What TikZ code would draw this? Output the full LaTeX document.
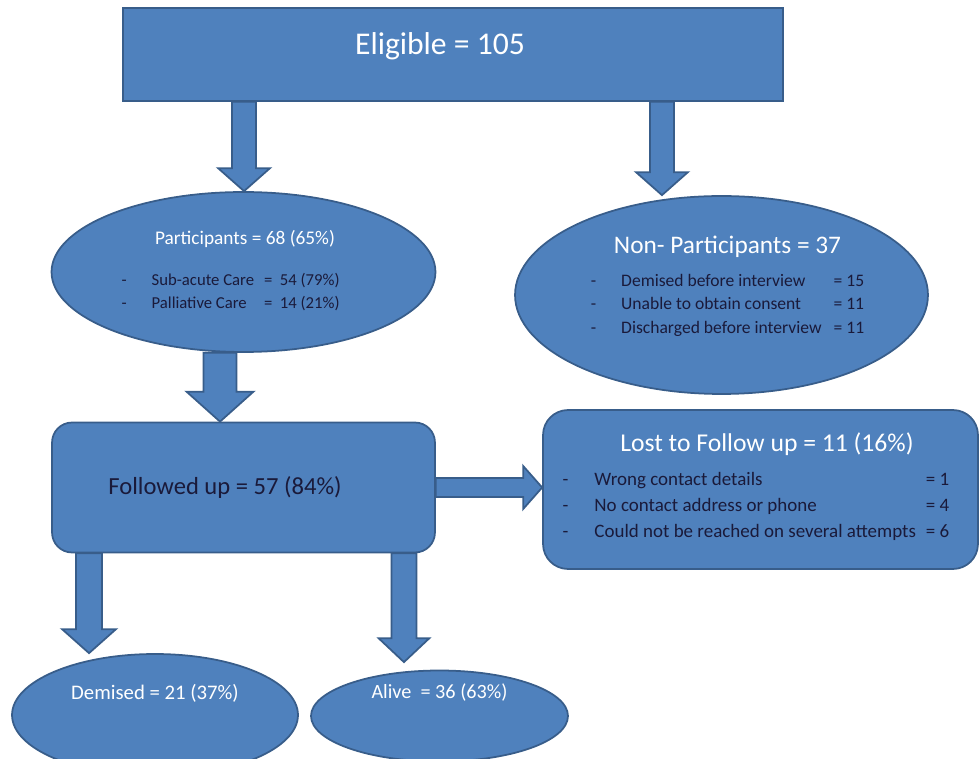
\documentclass[tikz,border=0pt]{standalone}
\usepackage{fontspec}
\setmainfont{Carlito}
\usetikzlibrary{calc,shapes.geometric}

\definecolor{fillblue}{HTML}{4F81BD}
\definecolor{edgeblue}{HTML}{385D8A}
\definecolor{ink}{RGB}{26,26,58}

\begin{document}
\begin{tikzpicture}[
  x=0.02cm, y=-0.02cm,
  blk/.style={fill=fillblue, draw=edgeblue, line width=1pt, inner sep=0pt},
  sqbox/.style={blk, rectangle},
  rbox/.style={blk, rectangle, rounded corners=0.4cm},
  oval/.style={blk, ellipse},
  head/.style={text=white, inner sep=0pt},
  body/.style={text=ink, inner sep=0pt},
  fat/.style n args={3}{fill=fillblue, draw=edgeblue, line width=1pt,
    to path={let \p1=(\tikztostart), \p2=(\tikztotarget),
      \n1={atan2(\y2-\y1,\x2-\x1)} in
      ($(\p1)+(\n1+90:#1)$) -- ($(\p2)+(\n1+180:#3)+(\n1+90:#1)$)
      -- ($(\p2)+(\n1+180:#3)+(\n1+90:#2)$) -- (\p2)
      -- ($(\p2)+(\n1+180:#3)+(\n1-90:#2)$)
      -- ($(\p2)+(\n1+180:#3)+(\n1-90:#1)$)
      -- ($(\p1)+(\n1-90:#1)$) -- cycle}}
]
  \clip (0,0) rectangle (980,759);

  \node[sqbox, minimum width=13.2cm, minimum height=1.86cm] (elig) at (453,54.5) {};
  \node[oval, minimum width=7.68cm, minimum height=3.2cm] (part) at (243.5,272) {};
  \node[oval, minimum width=8.26cm, minimum height=3.96cm] (nonpart) at (721.5,295) {};
  \node[rbox, minimum width=7.66cm, minimum height=2.6cm] (fu) at (243.5,487.5) {};
  \node[rbox, rounded corners=0.5cm, minimum width=8.7cm, minimum height=3.18cm] (lost) at (760.5,489.5) {};
  \node[oval, minimum width=5.72cm, minimum height=2.44cm] (dem) at (155,715) {};
  \node[oval, minimum width=5.14cm, minimum height=1.82cm] (alive) at (439.5,716) {};

  \node[head, font=\fontsize{18}{22}\selectfont] (eligtxt) at ([xshift=-0.26cm,yshift=0.16cm]elig.center) {Eligible = 105};

  \node[body, font=\fontsize{9.5}{13}\selectfont] (parttxt) at ([xshift=-0.2cm]part.center) {%
    \begin{tabular}{@{}l@{\hspace{0.5cm}}l@{\hspace{0.2cm}}l@{}}
      \multicolumn{3}{c}{\hspace{0.46cm}\color{white}\fontsize{11}{13}\selectfont Participants = 68 (65\%)}\\[10pt]
      - & Sub-acute Care & =\ \ 54 (79\%)\\
      - & Palliative Care & =\ \ 14 (21\%)
    \end{tabular}};

  \node[body, font=\fontsize{10}{13.6}\selectfont] (nonparttxt) at ([xshift=0.12cm,yshift=0.13cm]nonpart.center) {%
    \begin{tabular}{@{}l@{\hspace{0.5cm}}l@{\hspace{0.24cm}}l@{}}
      \multicolumn{3}{c}{\color{white}\fontsize{14.4}{16}\selectfont Non- Participants = 37\hspace{0.34cm}}\\[5pt]
      - & Demised before interview & = 15\\
      - & Unable to obtain consent & = 11\\
      - & Discharged before interview & = 11
    \end{tabular}};

  \node[body, font=\fontsize{14}{17}\selectfont] (futxt) at ([xshift=-0.37cm]fu.center) {Followed up = 57 (84\%)};

  \node[body, font=\fontsize{10.8}{15}\selectfont] (losttxt) at ([xshift=-0.09cm]lost.center) {%
    \begin{tabular}{@{}l@{\hspace{0.52cm}}l@{\hspace{0.2cm}}l@{}}
      \multicolumn{3}{c}{\hspace{0.44cm}\color{white}\fontsize{14.6}{16}\selectfont Lost to Follow up = 11 (16\%)}\\[4pt]
      - & Wrong contact details & = 1\\
      - & No contact address or phone & = 4\\
      - & Could not be reached on several attempts & = 6
    \end{tabular}};

  \node[head, font=\fontsize{11.8}{14}\selectfont] (demtxt) at ([yshift=0.44cm]dem.center) {Demised = 21 (37\%)};
  \node[head, font=\fontsize{11.5}{14}\selectfont] (alivetxt) at ([yshift=0.46cm]alive.center) {Alive\ \ = 36 (63\%)};

  \coordinate (eL) at ([xshift=-4.18cm]elig.south);
  \coordinate (eR) at ([xshift=4.18cm]elig.south);
  \coordinate (pS) at ([xshift=-0.47cm]part.south);
  \coordinate (fL) at ([xshift=-3.09cm]fu.south);
  \coordinate (fR) at ([xshift=3.21cm]fu.south);

  \path[fat={0.24cm}{0.52cm}{0.46cm}] (eL) to (eL |- part.north);
  \path[fat={0.24cm}{0.52cm}{0.46cm}] (eR) to (eR |- nonpart.north);
  \path[fat={0.33cm}{0.67cm}{0.6cm}] (pS) to (pS |- fu.north);
  \path[fat={0.19cm}{0.43cm}{0.38cm}] (fu.east) to (fu.east -| lost.west);
  \path[fat={0.26cm}{0.54cm}{0.48cm}] (fL) to (fL |- dem.north);
  \path[fat={0.25cm}{0.51cm}{0.48cm}] (fR) to ([yshift=0.15cm]fR |- alive.north);
\end{tikzpicture}
\end{document}
